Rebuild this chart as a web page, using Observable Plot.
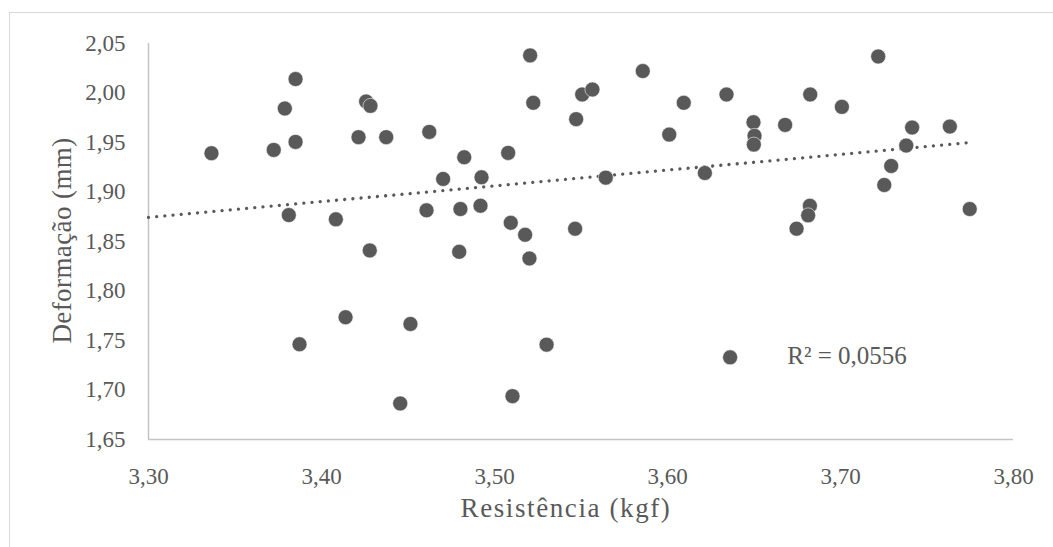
<!DOCTYPE html>
<html>
<head>
<meta charset="utf-8">
<script src="https://cdn.jsdelivr.net/npm/d3@7"></script>
<script src="https://cdn.jsdelivr.net/npm/@observablehq/plot@0.6"></script>
<style>
  html, body { margin: 0; padding: 0; background: #fff; overflow: hidden; }
  #wrap { position: relative; width: 1053px; height: 547px; }
  #border { position: absolute; left: 9px; top: 12px; width: 1100px; height: 600px;
            border-left: 1.5px solid #d9d9d9; border-top: 1.5px solid #d9d9d9; pointer-events: none; }
  .xtitle text { letter-spacing: 1.6px; }
  .ytitle text { letter-spacing: 0.4px; }
</style>
</head>
<body>
<div id="wrap"><div id="border"></div></div>
<script>
// Resistência (kgf)
const resistencia = [
  3.3850, 3.3788, 3.3364, 3.3724, 3.3850, 3.3811, 3.4083, 3.3873, 3.4139, 3.5206,
  3.5857, 3.4258, 3.4283, 3.5224, 3.5507, 3.5566, 3.5472, 3.6094, 3.4214, 3.4374,
  3.4623, 3.6010, 3.4825, 3.5079, 3.4703, 3.4925, 3.5643, 3.4607, 3.4803, 3.4919,
  3.5094, 3.5177, 3.5466, 3.4279, 3.4796, 3.5202, 3.4514, 3.5301, 3.4455, 3.5104,
  3.7218, 3.6341, 3.6825, 3.7008, 3.6497, 3.6680, 3.6503, 3.6499, 3.7414, 3.7632,
  3.7380, 3.7293, 3.7253, 3.6216, 3.6823, 3.6813, 3.6746, 3.7747, 3.6362
];
// Deformação (mm)
const deformacao = [
  2.0141, 1.9843, 1.9392, 1.9425, 1.9506, 1.8767, 1.8724, 1.7462, 1.7735, 2.0380,
  2.0222, 1.9914, 1.9870, 1.9901, 1.9985, 2.0035, 1.9736, 1.9901, 1.9554, 1.9554,
  1.9607, 1.9580, 1.9351, 1.9395, 1.9132, 1.9149, 1.9145, 1.8815, 1.8828, 1.8861,
  1.8689, 1.8568, 1.8629, 1.8410, 1.8396, 1.8329, 1.7667, 1.7458, 1.6864, 1.6938,
  2.0369, 1.9985, 1.9985, 1.9860, 1.9705, 1.9678, 1.9567, 1.9479, 1.9651, 1.9661,
  1.9469, 1.9263, 1.9071, 1.9192, 1.8861, 1.8764, 1.8629, 1.8828, 1.7330
];
// Linear trendline
const trendX = [3.30, 3.7747];
const trendY = [1.8744, 1.9499];
// Ticks
const xTicks = [3.30, 3.40, 3.50, 3.60, 3.70, 3.80];
const yTicks = [1.65, 1.70, 1.75, 1.80, 1.85, 1.90, 1.95, 2.00, 2.05];
const xTitle = "Resistência (kgf)";
const yTitle = "Deformação (mm)";
const r2Label = "R² = 0,0556";

const points = resistencia.map((x, i) => ({x, y: deformacao[i]}));
const trend = trendX.map((x, i) => ({x, y: trendY[i]}));
const fmt = d => d3.format(".2f")(d).replace(".", ",");
const ink = "#595959";
const font = "'Liberation Serif', 'Times New Roman', serif";

const chart = Plot.plot({
  width: 1053,
  height: 547,
  marginLeft: 148,
  marginRight: 40,
  marginTop: 43,
  marginBottom: 108,
  style: {fontFamily: font, fontSize: "23px", color: ink, background: "transparent"},
  x: {domain: [3.30, 3.80]},
  y: {domain: [1.65, 2.05]},
  marks: [
    Plot.axisX({ticks: xTicks, tickFormat: fmt, tickSize: 0, tickPadding: 28, label: null, fill: ink, fontSize: 23}),
    Plot.axisY({ticks: yTicks, tickFormat: fmt, tickSize: 0, tickPadding: 23, label: null, fill: ink, fontSize: 23}),
    Plot.ruleX([3.30], {y1: 1.65, y2: 2.05, stroke: "#c4c4c4", strokeWidth: 1.5}),
    Plot.ruleY([1.65], {x1: 3.30, x2: 3.80, stroke: "#c4c4c4", strokeWidth: 1.5}),
    Plot.line(trend, {x: "x", y: "y", stroke: ink, strokeWidth: 3.3, strokeDasharray: "0.01 8.2", strokeLinecap: "round"}),
    Plot.dot(points, {x: "x", y: "y", r: 7.5, fill: ink, stroke: "#ffffff", strokeWidth: 0.8, strokeOpacity: 0.7}),
    Plot.text([r2Label], {x: 3.6692, y: 1.7342, textAnchor: "start", lineAnchor: "middle", fontSize: 25, fill: ink}),
    Plot.text([xTitle], {frameAnchor: "bottom", textAnchor: "middle", dx: -15, dy: 69, lineAnchor: "middle", fontSize: 27, fill: ink, className: "xtitle"}),
    Plot.text([yTitle], {frameAnchor: "left", textAnchor: "middle", dx: -86, dy: -1, rotate: -90, lineAnchor: "middle", fontSize: 27, fill: ink, className: "ytitle"})
  ]
});
chart.style.position = "absolute";
chart.style.left = "0px";
chart.style.top = "0px";
document.getElementById("wrap").prepend(chart);
</script>
</body>
</html>
